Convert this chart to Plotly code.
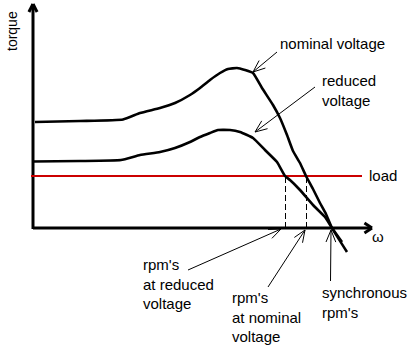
import numpy as np
import plotly.graph_objects as go

# Torque-speed characteristic (omega, torque), origin at the axis corner
omega_nominal = [2, 47, 90, 107, 127, 142, 157, 167, 177, 187, 195, 204, 212, 220, 229,
                 240, 247, 254, 260, 267, 273, 280, 287, 293, 299, 314]
torque_nominal = [106, 107, 108.5, 115, 120, 125, 133, 140, 148, 155, 159, 160, 158, 155, 140,
                  123, 110, 93, 77, 65, 52, 39, 25, 14, 0, -24]
omega_reduced = [0, 47, 88, 107, 127, 142, 157, 167, 177, 185, 197, 207, 220, 232, 244,
                 252, 257, 267, 280, 292, 299, 309]
torque_reduced = [66.5, 67, 68, 73, 76, 80, 86, 91, 95, 98, 98, 96, 90, 78, 66,
                  52, 48, 38, 23, 11, 0, -14]
load_torque = 52
load_span = [-2, 329]
rpm_reduced = 252.5
rpm_nominal = 273.5
rpm_sync = 299
axis_len_omega = 339
axis_len_torque = 224

# Label pointers: (tail_x, tail_y, tip_x, tip_y)
pointers = [
    (244, 176, 220, 156),   # nominal voltage
    (282, 141, 222, 96),    # reduced voltage
    (155, -42, 248, -1),    # rpm's at reduced voltage
    (235, -59, 272, -2),    # rpm's at nominal voltage
    (297.5, -53, 298, -2),  # synchronous rpm's
]

# Labels: (text, x, y, xanchor)
labels = [
    ("nominal voltage", 245, 185, "left"),
    ("reduced<br>voltage", 287, 138, "left"),
    ("load", 334, 53, "left"),
    ("rpm's<br>at reduced<br>voltage", 108, -56, "left"),
    ("rpm's<br>at nominal<br>voltage", 197, -89, "left"),
    ("synchronous<br>rpm's", 287, -74, "left"),
]


def barbs(x0, y0, x1, y1, length, ang_deg):
    d = np.array([x0 - x1, y0 - y1], dtype=float)
    d /= np.linalg.norm(d)
    xs, ys = [], []
    for s in (1, -1):
        a = np.radians(ang_deg) * s
        r = np.array([d[0] * np.cos(a) - d[1] * np.sin(a), d[0] * np.sin(a) + d[1] * np.cos(a)])
        p = np.array([x1, y1]) + length * r
        xs += [x1, p[0], None]
        ys += [y1, p[1], None]
    return xs, ys


fig = go.Figure()

# Axes with arrow heads
ax_x = [0, 0, None, 0, axis_len_omega, None]
ax_y = [-1, axis_len_torque, None, 0, 0, None]
bx, by = barbs(0, 0, 0, axis_len_torque, 9, 27)
ax_x += bx
ax_y += by
bx, by = barbs(0, 0, axis_len_omega, 0, 9, 33)
ax_x += bx
ax_y += by
fig.add_trace(go.Scatter(x=ax_x, y=ax_y, mode="lines", line=dict(color="black", width=3),
                         hoverinfo="skip", showlegend=False))

# Load line
fig.add_trace(go.Scatter(x=load_span, y=[load_torque, load_torque], mode="lines",
                         line=dict(color="#cc0000", width=2.2), showlegend=False))

# Dashed verticals at operating points
for w in (rpm_reduced, rpm_nominal):
    fig.add_trace(go.Scatter(x=[w, w], y=[0, load_torque], mode="lines",
                             line=dict(color="black", width=1, dash="6px,3px"), showlegend=False))

# Curves
fig.add_trace(go.Scatter(x=omega_nominal, y=torque_nominal, mode="lines",
                         line=dict(color="black", width=2.6, shape="spline", smoothing=0.4),
                         showlegend=False))
fig.add_trace(go.Scatter(x=omega_reduced, y=torque_reduced, mode="lines",
                         line=dict(color="black", width=2.6, shape="spline", smoothing=0.4),
                         showlegend=False))

# Pointer arrows
px, py = [], []
for (x0, y0, x1, y1) in pointers:
    px += [x0, x1, None]
    py += [y0, y1, None]
    bx, by = barbs(x0, y0, x1, y1, 13, 22)
    px += bx
    py += by
fig.add_trace(go.Scatter(x=px, y=py, mode="lines", line=dict(color="black", width=1),
                         showlegend=False))

font = dict(family="Arial, Liberation Sans, sans-serif", size=15, color="black")
for (t, x, y, xa) in labels:
    fig.add_annotation(x=x, y=y, text=t, showarrow=False, xanchor=xa, yanchor="middle",
                       align="left", font=font)

fig.add_annotation(x=-21, y=197, text="torque", textangle=-90, showarrow=False,
                   xanchor="center", yanchor="middle",
                   font=dict(family="Arial, Liberation Sans, sans-serif", size=14, color="black"))
fig.add_annotation(x=345, y=-8, text="ω", showarrow=False, xanchor="center", yanchor="middle",
                   font=dict(family="Arial, Liberation Sans, sans-serif", size=15, color="black"))

fig.update_xaxes(range=[-33, 381], visible=False, fixedrange=True)
fig.update_yaxes(range=[-121, 228], visible=False, fixedrange=True)
fig.update_layout(width=414, height=349, margin=dict(l=0, r=0, t=0, b=0),
                  plot_bgcolor="white", paper_bgcolor="white", showlegend=False)

fig.write_html("out.html", config={"displayModeBar": False})
